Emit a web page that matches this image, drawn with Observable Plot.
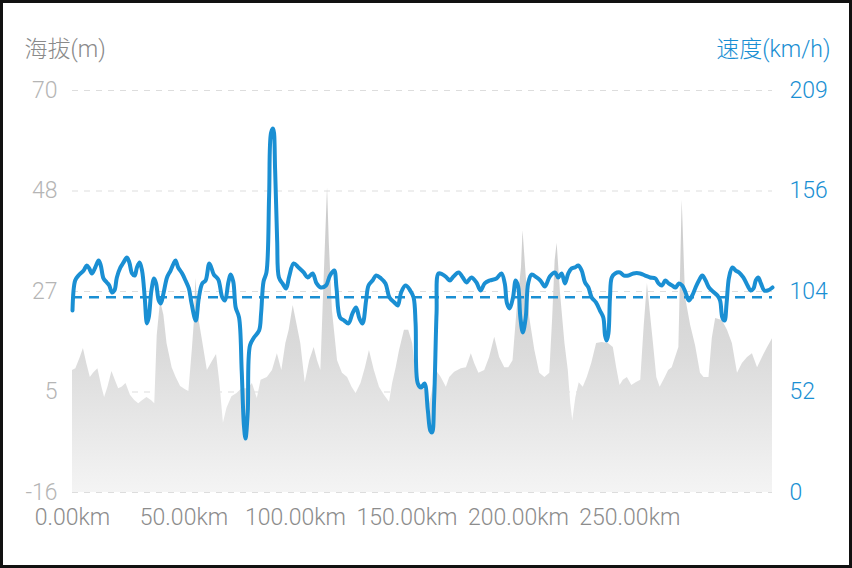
<!DOCTYPE html>
<html><head><meta charset="utf-8">
<script src="https://cdn.jsdelivr.net/npm/d3@7"></script>
<script src="https://cdn.jsdelivr.net/npm/@observablehq/plot@0.6"></script>
<style>
html,body{margin:0;padding:0;background:#fff;}
#wrap{position:relative;width:852px;height:568px;overflow:hidden;background:#fff;}
#border{position:absolute;left:0;top:0;width:852px;height:568px;box-sizing:border-box;border:3px solid #111;pointer-events:none;}
svg text{font-weight:300;}
</style></head><body><div id="wrap"><div id="chart"></div><div id="border"></div></div>
<script>
// ---- data ----
const speedKm = [0,1.2,2.7,5.0,6.4,7.5,8.7,10.2,11.7,12.7,
13.9,15.4,16.5,17.7,18.8,19.9,21.5,22.9,24.4,25.5,
26.7,27.9,28.9,30.1,31.2,32.4,33.4,34.2,35.4,36.6,
37.5,38.7,39.6,40.9,42.4,44.0,45.4,46.2,47.4,49.2,
50.7,52.2,53.4,55.3,56.7,58.2,59.7,61.4,63.4,65.4,
67.2,68.4,69.9,70.9,72.1,73.2,74.7,75.9,76.9,77.6,
78.6,79.6,81.4,83.7,84.6,85.7,87.0,88.2,89.1,90.0,
90.9,91.8,92.6,94.2,95.8,97.2,99.2,101.4,103.7,105.5,
107.7,109.5,111.4,113.7,115.5,117.4,118.4,120.0,121.9,123.8,
125.6,127.2,128.7,130.1,131.7,132.8,134.6,136.2,138.4,140.4,
142.2,144.4,145.9,147.4,149.4,151.5,153.0,153.9,154.9,156.4,
157.9,159.4,160.5,161.3,162.2,163.3,164.2,166.0,167.8,169.3,
170.9,173.2,175.1,176.7,178.9,181.2,183.0,184.9,187.1,190.2,
192.4,193.9,194.9,196.1,197.6,198.8,199.9,200.9,202.0,203.3,
204.4,205.9,208.2,209.9,211.9,214.1,216.4,217.9,219.4,220.9,
222.4,223.9,225.4,226.9,228.4,229.9,231.4,232.9,234.8,236.6,
238.1,238.9,239.6,240.4,241.1,241.9,243.4,245.6,247.4,249.4,
251.6,254.6,256.9,259.1,261.4,262.9,264.4,265.9,267.4,269.0,
270.5,272.0,273.5,275.0,276.5,278.0,279.5,281.0,282.5,284.0,
285.5,287.8,289.3,290.5,291.5,292.5,293.4,294.5,296.0,297.5,
299.0,300.9,302.8,304.2,305.5,306.5,307.6,308.8,310.3,311.8,
314.0];
const speedKmh = [94.6,110.2,112.8,115.4,118.0,116.5,113.9,117.0,120.6,118.0,
111.3,109.2,107.6,104.0,105.0,111.8,117.0,119.6,122.2,119.6,
113.9,112.8,117.0,119.6,115.4,101.4,87.9,91.0,105.0,111.3,
108.7,99.8,98.3,104.0,111.8,115.4,119.1,120.6,117.0,113.9,
110.2,106.1,98.3,89.4,101.4,108.7,110.2,119.1,113.3,110.7,
101.4,99.8,109.2,113.3,109.7,96.2,91.0,63.4,34.8,28.1,
41.6,76.4,80.6,84.2,93.1,109.7,114.4,154.4,187.2,189.2,
167.4,131.0,111.8,108.7,106.1,112.3,119.1,117.0,114.4,111.8,
113.9,108.7,106.6,107.6,112.8,115.4,106.6,91.0,89.4,87.9,
93.1,96.2,90.5,87.9,99.8,107.6,110.2,112.8,111.3,108.7,
101.4,98.8,97.2,104.0,107.6,105.0,101.4,87.9,56.7,54.6,
56.7,42.6,32.2,31.2,47.8,93.1,113.9,113.3,111.8,110.2,
112.3,114.4,111.8,109.2,111.8,109.2,105.0,108.7,110.2,111.3,
113.9,108.7,98.3,95.7,101.4,110.2,107.1,91.0,83.2,91.0,
108.7,113.3,111.8,110.2,107.1,112.3,114.4,111.8,113.9,108.7,
113.9,116.5,117.0,118.0,115.4,109.2,106.6,101.4,98.8,94.6,
91.0,81.6,79.0,82.7,101.4,111.8,113.9,114.4,112.8,112.8,
113.9,113.9,112.8,111.8,111.3,108.7,107.6,110.2,108.7,107.6,
106.6,108.7,107.6,104.0,99.8,102.4,106.6,110.2,112.8,110.2,
106.6,104.0,102.4,99.8,91.0,89.4,98.3,111.8,117.0,115.4,
114.4,111.8,107.6,105.0,106.1,110.2,111.8,108.7,105.0,105.0,
106.6];
const avgSpeed = 101.5;

const altKm = [0,1.5,3.5,4.9,6.4,8.0,9.4,11.4,13.2,14.4,
15.9,17.7,19.2,20.7,22.2,24.0,26.0,27.9,29.7,31.5,
33.4,35.4,36.9,38.0,39.5,41.0,42.4,44.7,46.5,48.5,
50.7,52.2,53.8,54.7,55.3,56.8,58.3,60.5,62.5,64.6,
66.1,67.7,69.3,71.5,73.8,76.0,78.7,80.7,82.9,84.6,
87.4,89.7,91.9,93.9,95.7,97.2,99.0,100.6,102.4,104.4,
106.4,108.4,109.9,111.4,112.9,114.4,115.2,116.6,118.9,121.1,
123.4,125.4,127.2,129.4,131.4,133.2,135.4,137.7,139.9,142.2,
143.6,145.2,146.7,148.9,150.8,152.6,154.2,156.1,157.9,160.2,
161.5,163.2,165.4,167.7,169.2,171.4,174.4,176.7,178.9,180.4,
182.3,184.9,187.1,189.4,191.6,193.9,195.7,197.6,199.4,201.4,
202.1,203.6,205.1,207.4,209.6,211.9,214.1,215.4,216.5,217.4,
218.9,220.9,222.4,223.5,224.4,225.8,227.3,229.1,230.9,232.9,
235.1,237.5,240.4,242.6,244.1,245.6,247.1,248.9,250.9,252.8,
254.9,256.4,257.9,259.1,260.6,262.1,263.6,265.9,267.4,269.0,
272.0,273.5,275.0,277.3,279.5,281.7,283.3,285.5,287.0,288.5,
291.5,293.8,296.0,298.3,300.5,302.8,305.0,307.3,309.5,311.8,
314.0];
const altM = [10.1,10.5,12.9,14.8,11.6,8.6,9.5,10.5,6.5,4.3,
6.5,9.9,8.0,6.2,6.5,7.3,4.8,3.7,3.0,3.7,
4.3,3.7,3.0,17.6,24.9,21.9,15.9,10.7,8.6,6.7,
6.0,5.6,14.8,20.8,29.8,20.8,16.5,10.1,11.8,13.5,
7.5,-1.2,2.0,4.5,5.2,6.2,6.2,7.3,4.1,8.0,
8.6,10.1,13.7,10.1,15.9,18.7,24.0,20.2,15.9,7.5,
12.2,15.0,12.2,10.1,30.0,49.2,37.3,22.9,12.2,9.5,
8.6,6.5,5.2,7.3,10.7,14.4,10.1,6.5,4.8,3.3,
7.3,10.7,14.4,18.7,18.7,15.9,8.6,6.9,6.5,3.0,
5.8,10.1,8.6,6.5,8.6,9.7,10.5,10.7,13.7,11.6,
9.5,10.1,12.9,17.2,12.9,10.7,10.7,12.2,22.9,32.1,
40.0,29.8,21.4,14.4,9.5,8.6,9.5,21.4,33.6,37.3,
26.6,15.9,10.1,3.0,-0.6,4.3,7.5,6.5,8.6,11.6,
15.9,16.1,15.9,15.0,10.7,6.9,8.0,8.6,6.9,7.5,
8.0,19.3,28.7,22.9,15.9,8.6,6.5,8.6,10.1,10.7,
15.0,46.5,25.7,19.7,15.4,9.5,8.6,8.6,17.0,21.2,
20.8,18.7,15.9,9.5,11.6,12.9,13.7,10.7,12.9,15.0,
16.9];

const altTickLabels = ["-16","5","27","48","70"];
const speedTickLabels = ["0","52","104","156","209"];
const xTicks = [0,50,100,150,200,250];
const altTitle = "海拔(m)";
const speedTitle = "速度(km/h)";

// ---- scales helpers ----
const altMin = -16, altMax = 70, speedMax = 209, xMax = 314;
const toAlt = s => altMin + s * (altMax - altMin) / speedMax;
const tickPos = d3.range(5).map(i => altMin + i * (altMax - altMin) / 4);

const speedData = speedKm.map((k, i) => ({km: k, v: speedKmh[i]}));
const altData = altKm.map((k, i) => ({km: k, alt: altM[i]}));

const blue = "#1a8fd3";
const fs = 23;

const plot = Plot.plot({
  width: 852, height: 568,
  marginLeft: 72, marginRight: 80, marginTop: 90, marginBottom: 76,
  style: {fontFamily: 'Roboto, "Noto Sans CJK SC", sans-serif', fontSize: fs + "px", background: "transparent"},
  x: {domain: [0, xMax]},
  y: {domain: [altMin, altMax]},
  marks: [
    Plot.ruleY(tickPos, {stroke: "#dddddd", strokeWidth: 1, strokeDasharray: "6,6"}),
    Plot.areaY(altData, {x: "km", y1: () => altMin, y2: "alt", fill: "url(#altGrad)", curve: "linear"}),
    Plot.ruleY([avgSpeed], {y: d => toAlt(d), stroke: blue, strokeWidth: 2.5, strokeDasharray: "10,7"}),
    Plot.lineY(speedData, {x: "km", y: d => toAlt(d.v), stroke: blue, strokeWidth: 4, curve: "catmull-rom", strokeLinejoin: "round"}),
    Plot.axisY(tickPos, {anchor: "left", tickSize: 0, tickPadding: 15, label: null, color: "#b5b5b5", fontSize: fs,
      tickFormat: d => altTickLabels[tickPos.indexOf(d)]}),
    Plot.axisY(tickPos, {anchor: "right", tickSize: 0, tickPadding: 17, label: null, color: blue, fontSize: fs,
      tickFormat: d => speedTickLabels[tickPos.indexOf(d)]}),
    Plot.axisX(xTicks, {tickSize: 0, tickPadding: 16, label: null, color: "#8c8c8c", fontSize: fs,
      tickFormat: d => d.toFixed(2) + "km"}),
    Plot.text([altTitle], {text: d => d, frameAnchor: "top-left", dx: -48, dy: -50, textAnchor: "start", fill: "#8a8a8a", fontSize: fs}),
    Plot.text([speedTitle], {text: d => d, frameAnchor: "top-right", dx: 58, dy: -50, textAnchor: "end", fill: blue, fontSize: fs})
  ]
});
plot.insertAdjacentHTML("afterbegin",
  '<defs><linearGradient id="altGrad" x1="0" y1="0" x2="0" y2="1">' +
  '<stop offset="0" stop-color="#c9c9c9"/><stop offset="0.55" stop-color="#dbdbdb"/>' +
  '<stop offset="1" stop-color="#f4f4f4"/></linearGradient></defs>');
document.getElementById("chart").appendChild(plot);
</script></body></html>
